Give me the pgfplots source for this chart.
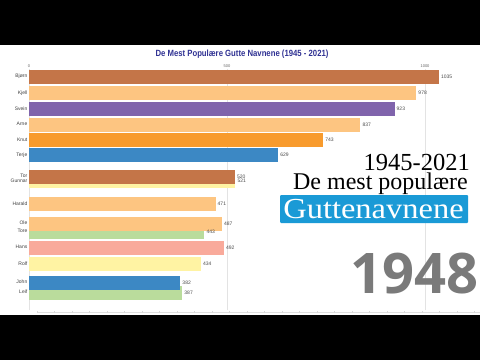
\documentclass[border=0pt]{standalone}
\usepackage{pgfplots}
\pgfplotsset{compat=1.18}
\usepackage{fontspec}
\setmainfont{Liberation Sans}
\newfontfamily\serifbig{Liberation Serif}
\newfontfamily\yearfont{Open Sans}
\definecolor{cbrown}{HTML}{C47548}
\definecolor{clight}{HTML}{FDC581}
\definecolor{cpurple}{HTML}{8064AC}
\definecolor{corange}{HTML}{F89B2D}
\definecolor{cblue}{HTML}{3C88C4}
\definecolor{cpale}{HTML}{FFF3A3}
\definecolor{cgreen}{HTML}{BADC9C}
\definecolor{csalmon}{HTML}{F9AA9B}
\definecolor{ctitle}{HTML}{2F3193}
\definecolor{cbox}{HTML}{1A9AD6}
\definecolor{cyear}{HTML}{7A7A7A}
\begin{document}
\begin{tikzpicture}[x=1pt,y=1pt]
\useasboundingbox (0,0) rectangle (480,360);
\fill[white] (0,0) rectangle (480,360);
\begin{axis}[
  at={(29pt,50pt)}, anchor=south west,
  scale only axis, width=435.6pt, height=241pt,
  xmin=0, xmax=1100, ymin=-310, ymax=-69,
  axis line style={draw=none},
  xtick={0,500,1000},
  xticklabel pos=top,
  major tick length=0pt,
  xmajorgrids, grid style={gray!22, line width=0.5pt},
  /pgf/number format/1000 sep={},
  /pgf/number format/assume math mode=true,
  xticklabel style={font=\fontsize{4}{4}\selectfont, text=gray!80!black, yshift=-2pt},
  ytick={-76,-93,-109,-124,-140,-155,-176,-181,-204,-223,-231,-247,-264,-282,-292},
  yticklabels={Bjørn,Kjell,Svein,Arne,Knut,Terje,Tor,Gunnar,Harald,Ole,Tore,Hans,Rolf,John,Leif},
  yticklabel style={font=\fontsize{5}{5}\selectfont, text=black!75, inner sep=1.5pt},
  every axis plot/.append style={xbar, bar shift=0pt, bar width=14, draw=none,
    nodes near coords, point meta=x,
    every node near coord/.append style={font=\fontsize{5}{5}\selectfont, text=black!70, anchor=west, inner sep=2pt}},
  clip=false
]
\addplot[fill=cbrown] coordinates {(1035,-77)};
\addplot[fill=clight] coordinates {(978,-93)};
\addplot[fill=cpurple] coordinates {(923,-109)};
\addplot[fill=clight] coordinates {(837,-124.5)};
\addplot[fill=corange] coordinates {(743,-140)};
\addplot[fill=cblue] coordinates {(629,-155)};
\addplot[fill=cpale] coordinates {(521,-181)};
\addplot[fill=cbrown] coordinates {(520,-177)};
\addplot[fill=clight] coordinates {(471,-204)};
\addplot[fill=cgreen] coordinates {(443,-231.5)};
\addplot[fill=clight] coordinates {(487,-224)};
\addplot[fill=csalmon] coordinates {(492,-247.5)};
\addplot[fill=cpale] coordinates {(434,-264)};
\addplot[fill=cgreen] coordinates {(387,-292.5)};
\addplot[fill=cblue] coordinates {(382,-282.5)};
\end{axis}
% timeline axis (faint)
\draw[gray!25, line width=0.5pt] (37,47.5) -- (480,47.5);
\foreach \i in {0,...,25} { \draw[gray!30, line width=0.4pt] (37+17.5*\i,47.5) -- (37+17.5*\i,49.5); }
% title
\node[font=\bfseries\fontsize{9}{9}\selectfont, text=ctitle, xscale=0.86] at (242,306) {De Mest Populære Gutte Navnene (1945 - 2021)};
% right side annotations
\node[font=\serifbig\fontsize{24.5}{24.5}\selectfont, anchor=base east, inner sep=0pt, text depth=0pt] at (470,189.5) {1945-2021};
\node[font=\serifbig\fontsize{24}{24}\selectfont, anchor=base east, inner sep=0pt, text height=16pt] at (468,171) {De mest populære};
\fill[cbox, rounded corners=1pt] (280,137) rectangle (468,165);
\node[font=\serifbig\fontsize{29}{29}\selectfont, text=white, anchor=base, inner sep=0pt, xscale=1.12] at (373.5,142) {Guttenavnene};
\node[font=\yearfont\bfseries\fontsize{56}{56}\selectfont, text=cyear, anchor=base east, inner sep=0pt] at (479,67) {1948};
% letterbox
\fill[black] (0,315) rectangle (480,360);
\fill[black] (0,0) rectangle (480,45);
\end{tikzpicture}
\end{document}
